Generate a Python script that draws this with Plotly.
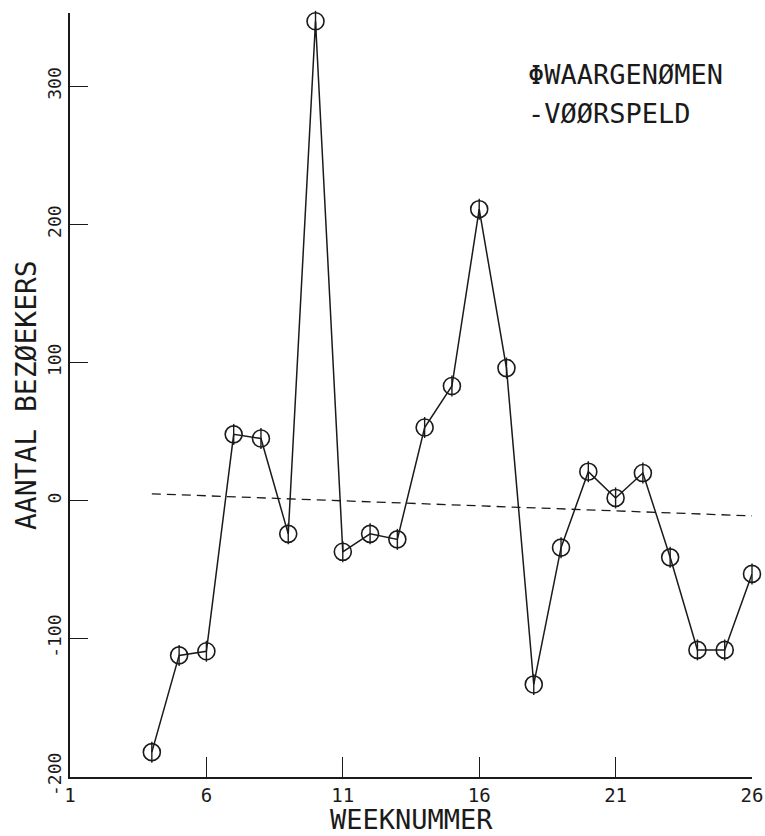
import plotly.graph_objects as go

# Observed (waargenomen) values per week
weeks = [4, 5, 6, 7, 8, 9, 10, 11, 12, 13, 14, 15, 16, 17, 18, 19, 20, 21, 22, 23, 24, 25, 26]
observed = [-182, -112, -109, 48, 45, -24, 347, -37, -24, -28, 53, 83, 211, 96, -133, -34, 21, 2, 20, -41, -108, -108, -53]

# Predicted (voorspeld) trend line, read at its ends
forecast_weeks = [4, 26]
forecast = [5, -11]

x_ticks = [1, 6, 11, 16, 21, 26]
y_ticks = [-200, -100, 0, 100, 200, 300]

FONT = "DejaVu Sans Mono, Liberation Mono, monospace"
INK = "#1a1a1a"

fig = go.Figure()

fig.add_trace(go.Scatter(
    x=forecast_weeks, y=forecast, mode="lines",
    line=dict(color=INK, width=1.3, dash="9px,6px"),
    showlegend=False, hoverinfo="skip"))

fig.add_trace(go.Scatter(
    x=weeks, y=observed, mode="lines+markers",
    line=dict(color=INK, width=1.5),
    marker=dict(symbol="circle-open", size=17, color=INK, line=dict(width=1.6, color=INK)),
    cliponaxis=False, showlegend=False))

fig.add_trace(go.Scatter(
    x=weeks, y=observed, mode="markers",
    marker=dict(symbol="line-ns-open", size=15, color=INK, line=dict(width=1.4, color=INK)),
    cliponaxis=False, showlegend=False, hoverinfo="skip"))

fig.update_layout(
    width=765, height=836,
    margin=dict(l=70, r=13, t=13, b=59),
    paper_bgcolor="white", plot_bgcolor="white",
    font=dict(family=FONT, color=INK),
    xaxis=dict(range=[1, 26], tickmode="array", tickvals=x_ticks,
               ticktext=[str(t) for t in x_ticks],
               ticks="inside", ticklen=20, tickwidth=1.3, tickcolor=INK,
               showline=True, linecolor=INK, linewidth=1.5,
               showgrid=False, zeroline=False, automargin=False,
               tickfont=dict(size=19, family=FONT, color=INK)),
    yaxis=dict(range=[-200, 353], tickmode="array", tickvals=y_ticks,
               ticktext=[str(t) for t in y_ticks],
               ticks="inside", ticklen=18, tickwidth=1.3, tickcolor=INK,
               showline=True, linecolor=INK, linewidth=1.5,
               showgrid=False, zeroline=False, tickangle=-90, automargin=False,
               tickfont=dict(size=18, family=FONT, color=INK)),
    annotations=[
        dict(text="AANTAL BEZØEKERS", xref="paper", yref="paper", x=0, y=0.5,
             xanchor="center", yanchor="middle", xshift=-44, textangle=-90,
             showarrow=False, font=dict(size=28, family=FONT, color=INK)),
        dict(text="WEEKNUMMER", xref="paper", yref="paper", x=0.5, y=0,
             xanchor="center", yanchor="middle", yshift=-42,
             showarrow=False, font=dict(size=27, family=FONT, color=INK)),
        dict(text="ΦWAARGENØMEN", xref="paper", yref="paper", x=0.668, y=0.919,
             xanchor="left", yanchor="middle",
             showarrow=False, font=dict(size=27, family=FONT, color=INK)),
        dict(text="-VØØRSPELD", xref="paper", yref="paper", x=0.668, y=0.869,
             xanchor="left", yanchor="middle",
             showarrow=False, font=dict(size=27, family=FONT, color=INK)),
    ],
)

fig.write_html(
    "out.html",
    config={"displayModeBar": False},
    post_script="document.body.style.margin='0';document.body.style.overflow='hidden';",
)
